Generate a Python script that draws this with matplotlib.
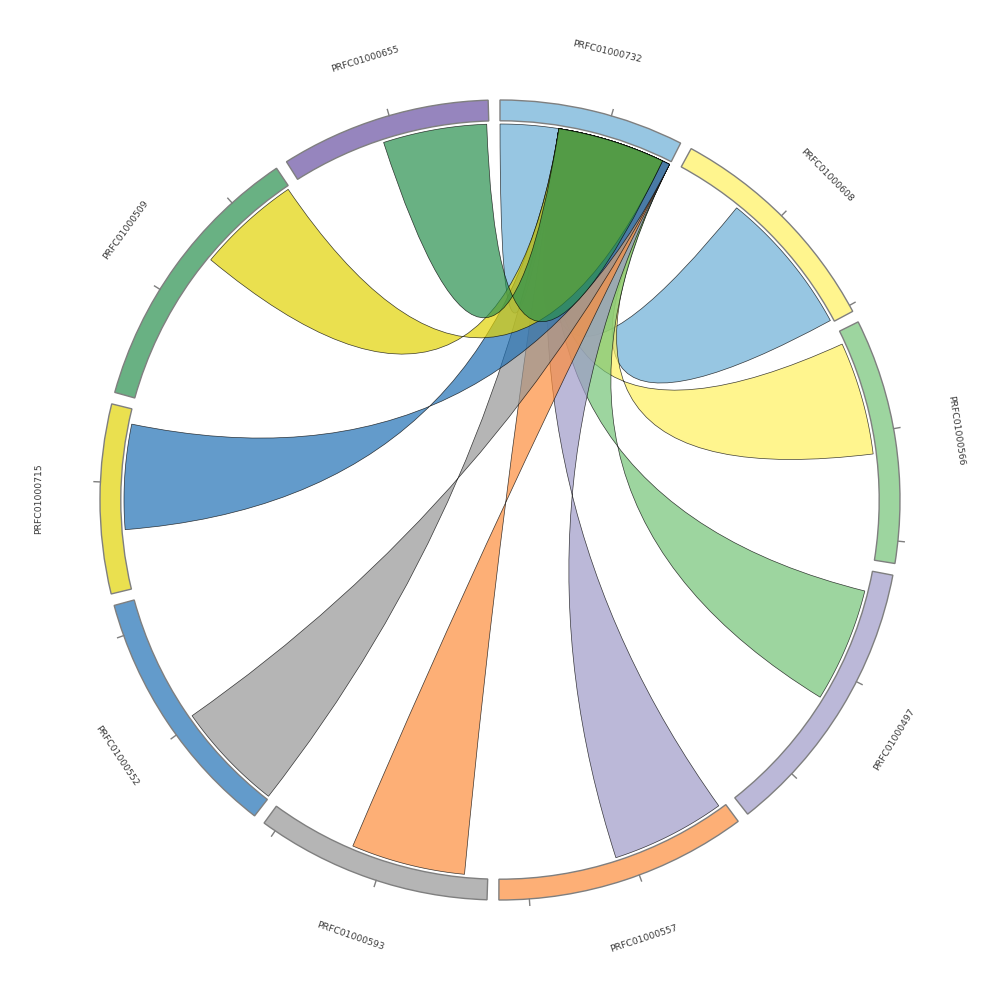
"""
Хордовая диаграмма связей PRFC01000732 с остальными группами.
"""

import matplotlib
matplotlib.use("Agg")
import matplotlib.pyplot as plt
import numpy as np
from matplotlib.colors import to_rgba
from matplotlib.patches import PathPatch, Wedge
from matplotlib.path import Path

# группы по кругу (по часовой стрелке от верха)
groups = [
    "PRFC01000732", "PRFC01000608", "PRFC01000566", "PRFC01000497", "PRFC01000557",
    "PRFC01000593", "PRFC01000552", "PRFC01000715", "PRFC01000509", "PRFC01000655",
]
group_sizes = [16.6, 20.6, 22.0, 25.3, 22.7, 21.2, 22.8, 17.0, 25.0, 18.9]
group_colors = [
    "#6baed6", "#fff25f", "#74c476", "#9e9ac8", "#fd8d3c",
    "#969696", "#2171b5", "#e2d305", "#2a904e", "#6a51a3",
]

# хорды: все выходят из PRFC01000732 (индекс 0), порядок = порядок отрисовки
chord_target = [0, 1, 2, 3, 4, 5, 6, 7, 8, 9]
chord_target_offset = [0.0, 6.47, 1.2, 1.96, 0.6, 2.2, 0.1, 5.6, 14.9, 8.8]
chord_target_value = [5.57, 13.9, 10.8, 10.9, 10.9, 10.9, 10.5, 10.0, 9.9, 9.9]
chord_source_offset = [5.57] * 10
chord_source_value = [10.27, 11.0, 11.0, 11.0, 11.0, 11.0, 11.0, 11.0, 10.27, 10.27]
chord_colors = [
    "#6baed6", "#6baed6", "#fff25f", "#74c476", "#9e9ac8",
    "#fd8d3c", "#969696", "#2171b5", "#e2d305", "#2a904e",
]

TICK_STEP = 10.0
GAP = 1.7           # градусы между группами
R_OUT, R_IN, R_CHORD = 1.0, 0.948, 0.94
ALPHA = 0.7


def pol(r, theta):
    """Угол в градусах по часовой стрелке от верха -> x, y."""
    t = np.deg2rad(theta)
    return np.array([r * np.sin(t), r * np.cos(t)])


def ribbon_path(b1, b2, a1, a2, r):
    # концы соединяются "перекрёстно": b1-a1 и b2-a2
    verts, codes = [], []
    for i, t in enumerate(np.linspace(b1, b2, 40)):
        verts.append(pol(r, t))
        codes.append(Path.MOVETO if i == 0 else Path.LINETO)
    verts += [(0, 0), pol(r, a2)]
    codes += [Path.CURVE3, Path.CURVE3]
    for t in np.linspace(a2, a1, 40)[1:]:
        verts.append(pol(r, t))
        codes.append(Path.LINETO)
    verts += [(0, 0), pol(r, b1), pol(r, b1)]
    codes += [Path.CURVE3, Path.CURVE3, Path.CLOSEPOLY]
    return Path(verts, codes)


n = len(groups)
deg_per_unit = (360 - n * GAP) / sum(group_sizes)
starts = [sum(group_sizes[:i]) * deg_per_unit + i * GAP for i in range(n)]

fig = plt.figure(figsize=(10, 10), dpi=100)
ax = fig.add_axes([0, 0, 1, 1])
ax.set_xlim(-1.25, 1.25)
ax.set_ylim(-1.25, 1.25)
ax.set_aspect("equal")
ax.axis("off")

# дуги групп, засечки и подписи
for i, name in enumerate(groups):
    a0 = starts[i]
    a1 = a0 + group_sizes[i] * deg_per_unit
    ax.add_patch(Wedge((0, 0), R_OUT, 90 - a1, 90 - a0, width=R_OUT - R_IN,
                       facecolor=to_rgba(group_colors[i], ALPHA),
                       edgecolor="#7f7f7f", lw=1.0, zorder=3))
    k = 1
    while k * TICK_STEP <= group_sizes[i] + 0.2:
        ang = a0 + k * TICK_STEP * deg_per_unit
        p0, p1 = pol(R_OUT, ang), pol(R_OUT + 0.016, ang)
        ax.plot([p0[0], p1[0]], [p0[1], p1[1]], color="#7f7f7f", lw=1.0)
        k += 1
    mid = (a0 + a1) / 2
    rot = 180 - mid if 90 < mid < 270 else -mid
    x, y = pol(1.153, mid)
    ax.text(x, y, name, rotation=rot, rotation_mode="anchor",
            ha="center", va="center", fontsize=6.7, color="#3a3a3a")

# хорды
for j in range(len(chord_target)):
    tg = chord_target[j]
    b1 = starts[tg] + chord_target_offset[j] * deg_per_unit
    b2 = b1 + chord_target_value[j] * deg_per_unit
    a1 = starts[0] + chord_source_offset[j] * deg_per_unit
    a2 = a1 + chord_source_value[j] * deg_per_unit
    path = ribbon_path(b1, b2, a1, a2, R_CHORD)
    ax.add_patch(PathPatch(path, facecolor=to_rgba(chord_colors[j], ALPHA),
                           edgecolor=(0, 0, 0, 0.75), lw=0.5, zorder=2))

plt.savefig("out.png", dpi=100)
plt.close()
